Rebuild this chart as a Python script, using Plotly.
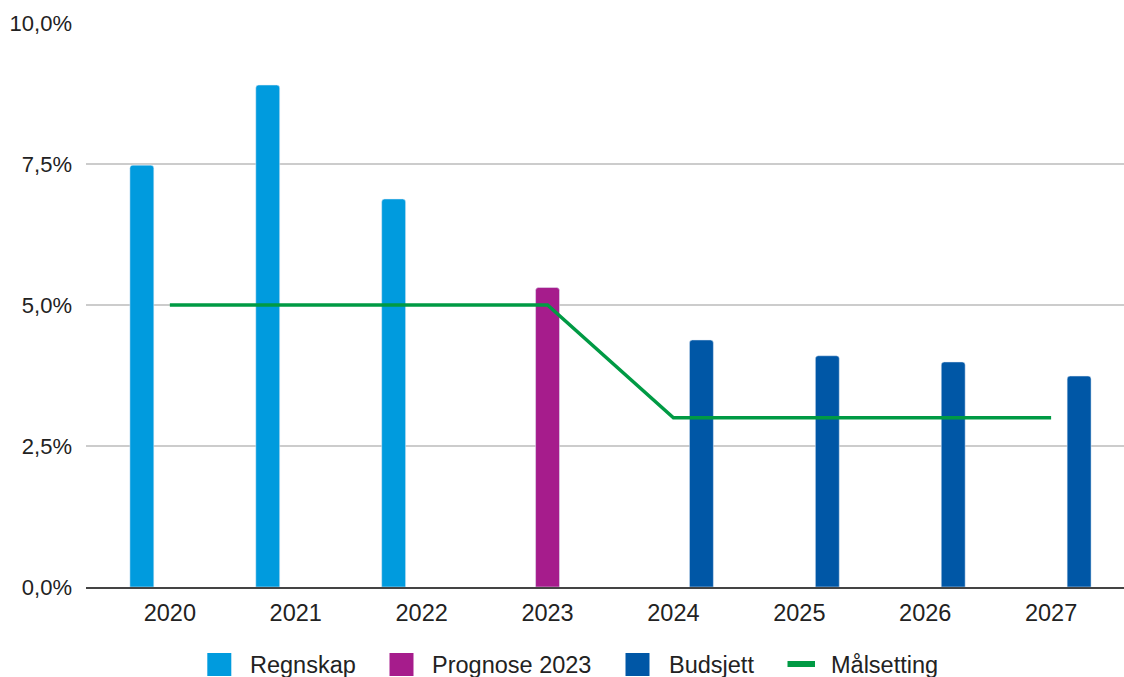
import plotly.graph_objects as go

# ---- data ----
years = [2020, 2021, 2022, 2023, 2024, 2025, 2026, 2027]
regnskap_years = [2020, 2021, 2022]
regnskap = [7.48, 8.90, 6.88]
prognose_years = [2023]
prognose = [5.31]
budsjett_years = [2024, 2025, 2026, 2027]
budsjett = [4.38, 4.10, 3.99, 3.74]
malsetting = [5, 5, 5, 5, 3, 3, 3, 3]
y_ticks = [0, 2.5, 5, 7.5, 10]
y_ticklabels = ["0,0%", "2,5%", "5,0%", "7,5%", "10,0%"]
series_names = ["Regnskap", "Prognose 2023", "Budsjett", "Målsetting"]

# ---- style ----
C_REG = "#009BDE"
C_PRO = "#A61C8C"
C_BUD = "#0057A6"
C_MAL = "#009A44"
FONT = "Liberation Sans, Arial, sans-serif"
W, H = 1124, 677
ML, MR, MT, MB = 86, 0, 23, 90
PW, PH = W - ML - MR, H - MT - MB

BAR_W = 0.19      # bar width in axis units
SLOT = 0.2224     # distance between group slots


def px(x):
    return (x - ML) / PW


def py(y):
    return (H - MB - y) / PH


fig = go.Figure()
fig.add_bar(x=regnskap_years, y=regnskap, name=series_names[0],
            marker_color=C_REG, width=BAR_W, offset=-SLOT - BAR_W / 2,
            showlegend=False)
fig.add_bar(x=prognose_years, y=prognose, name=series_names[1],
            marker_color=C_PRO, width=BAR_W, offset=-BAR_W / 2,
            showlegend=False)
fig.add_bar(x=budsjett_years, y=budsjett, name=series_names[2],
            marker_color=C_BUD, width=BAR_W, offset=SLOT - BAR_W / 2,
            showlegend=False)
fig.add_scatter(x=years, y=malsetting, name=series_names[3], mode="lines",
                line=dict(color=C_MAL, width=3.5), showlegend=False)

# ---- custom legend (large swatches) ----
shapes = []
annotations = []
legend_items = [
    (series_names[0], C_REG, 207.3, 248.0, "sq"),
    (series_names[1], C_PRO, 389.5, 430.0, "sq"),
    (series_names[2], C_BUD, 625.5, 666.5, "sq"),
    (series_names[3], C_MAL, 787.5, 829.0, "ln"),
]
cy = 664
for name, col, sx, tx, kind in legend_items:
    if kind == "sq":
        shapes.append(dict(type="rect", xref="paper", yref="paper",
                           x0=px(sx), x1=px(sx + 24), y0=py(cy + 12), y1=py(cy - 11),
                           fillcolor=col, line=dict(width=0), layer="above"))
    else:
        shapes.append(dict(type="rect", xref="paper", yref="paper",
                           x0=px(sx), x1=px(sx + 27.5), y0=py(cy + 3), y1=py(cy - 3),
                           fillcolor=col, line=dict(width=0), layer="above"))
    annotations.append(dict(text=name, xref="paper", yref="paper", x=px(tx), y=py(cy + 0.5),
                            xanchor="left", yanchor="middle", showarrow=False,
                            font=dict(family=FONT, size=23.5, color="#222222")))

fig.update_layout(
    width=W, height=H,
    margin=dict(l=ML, r=MR, t=MT, b=MB),
    paper_bgcolor="white", plot_bgcolor="white",
    barcornerradius=3,
    font=dict(family=FONT, size=22, color="#222222"),
    shapes=shapes, annotations=annotations,
    showlegend=False,
)
fig.update_xaxes(range=[2019.334, 2027.579], tickvals=years,
                 ticktext=[str(y) for y in years],
                 tickfont=dict(size=23.5),
                 showgrid=False, zeroline=False, showline=True,
                 linecolor="#444444", linewidth=1.5, ticks="",
                 ticklabelstandoff=4)
fig.update_yaxes(range=[0, 10], tickvals=y_ticks, ticktext=y_ticklabels,
                 showgrid=True, gridcolor="#CCCCCC", gridwidth=1.5,
                 zeroline=False, showline=False, ticks="",
                 ticklabelstandoff=13)

fig.write_html("out.html",
               config={"displayModeBar": False},
               post_script="document.body.style.margin='0';"
                           "document.body.style.overflow='hidden';")
